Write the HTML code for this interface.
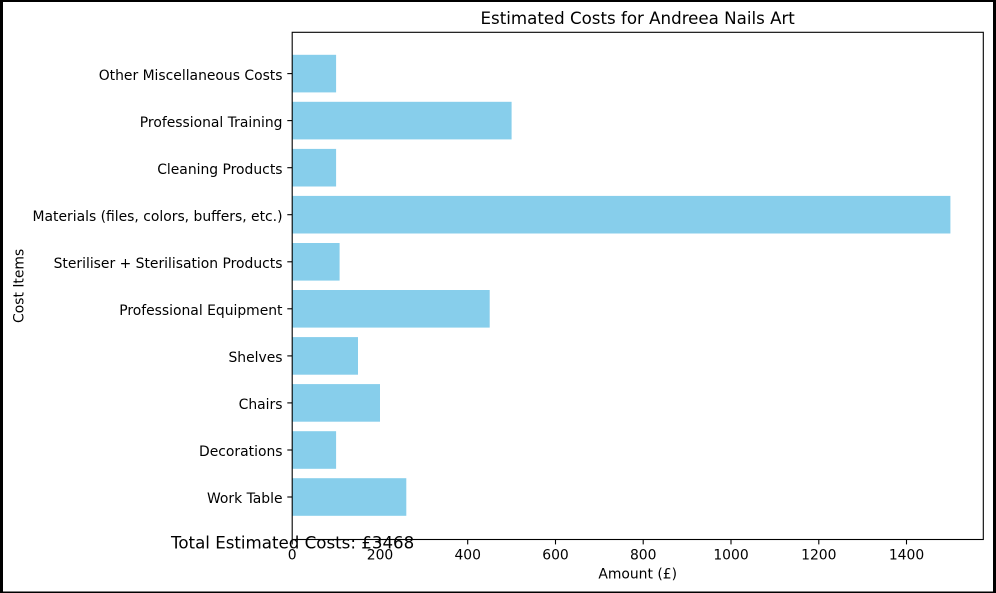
<!DOCTYPE html>
<html><head><meta charset="utf-8"><style>
html,body{margin:0;padding:0;background:#fff;}
svg{display:block;}
text{font-family:"DejaVu Sans","Liberation Sans",sans-serif;fill:#000;}
</style></head><body>
<svg width="996" height="593" viewBox="0 0 996 593" xmlns="http://www.w3.org/2000/svg">
<rect x="0" y="0" width="996" height="593" fill="#fff"/>
<!-- bars -->
<g fill="#87CEEB">
<rect x="292.2" y="478.2" width="114.1" height="37.6"/>
<rect x="292.2" y="431.2" width="43.9" height="37.6"/>
<rect x="292.2" y="384.1" width="87.8" height="37.6"/>
<rect x="292.2" y="337.1" width="65.8" height="37.6"/>
<rect x="292.2" y="290.0" width="197.5" height="37.6"/>
<rect x="292.2" y="243.0" width="47.4" height="37.6"/>
<rect x="292.2" y="195.9" width="658.2" height="37.6"/>
<rect x="292.2" y="148.9" width="43.9" height="37.6"/>
<rect x="292.2" y="101.8" width="219.4" height="37.6"/>
<rect x="292.2" y="54.8" width="43.9" height="37.6"/>
</g>
<!-- axes frame -->
<rect x="292.2" y="32.3" width="691.1" height="507.2" fill="none" stroke="#000" stroke-width="1.1"/>
<!-- x ticks -->
<g stroke="#000" stroke-width="1.1">
<line x1="292.2" y1="539.5" x2="292.2" y2="544.4"/>
<line x1="380.0" y1="539.5" x2="380.0" y2="544.4"/>
<line x1="467.7" y1="539.5" x2="467.7" y2="544.4"/>
<line x1="555.5" y1="539.5" x2="555.5" y2="544.4"/>
<line x1="643.2" y1="539.5" x2="643.2" y2="544.4"/>
<line x1="731.0" y1="539.5" x2="731.0" y2="544.4"/>
<line x1="818.8" y1="539.5" x2="818.8" y2="544.4"/>
<line x1="906.5" y1="539.5" x2="906.5" y2="544.4"/>
</g>
<g font-size="13.9" text-anchor="middle">
<text x="292.2" y="559.5">0</text>
<text x="380.0" y="559.5">200</text>
<text x="467.7" y="559.5">400</text>
<text x="555.5" y="559.5">600</text>
<text x="643.2" y="559.5">800</text>
<text x="731.0" y="559.5">1000</text>
<text x="818.8" y="559.5">1200</text>
<text x="906.5" y="559.5">1400</text>
</g>
<!-- y ticks -->
<g stroke="#000" stroke-width="1.1">
<line x1="287.3" y1="497.0" x2="292.2" y2="497.0"/>
<line x1="287.3" y1="450.0" x2="292.2" y2="450.0"/>
<line x1="287.3" y1="402.9" x2="292.2" y2="402.9"/>
<line x1="287.3" y1="355.9" x2="292.2" y2="355.9"/>
<line x1="287.3" y1="308.8" x2="292.2" y2="308.8"/>
<line x1="287.3" y1="261.8" x2="292.2" y2="261.8"/>
<line x1="287.3" y1="214.7" x2="292.2" y2="214.7"/>
<line x1="287.3" y1="167.7" x2="292.2" y2="167.7"/>
<line x1="287.3" y1="120.6" x2="292.2" y2="120.6"/>
<line x1="287.3" y1="73.6" x2="292.2" y2="73.6"/>
</g>
<g font-size="13.9" text-anchor="end">
<text x="282.5" y="503.2">Work Table</text>
<text x="282.5" y="456.2">Decorations</text>
<text x="282.5" y="409.1">Chairs</text>
<text x="282.5" y="362.1">Shelves</text>
<text x="282.5" y="315.0">Professional Equipment</text>
<text x="282.5" y="268.0">Steriliser + Sterilisation Products</text>
<text x="282.5" y="220.9">Materials (files, colors, buffers, etc.)</text>
<text x="282.5" y="173.9">Cleaning Products</text>
<text x="282.5" y="126.8">Professional Training</text>
<text x="282.5" y="79.8">Other Miscellaneous Costs</text>
</g>
<!-- labels -->
<text x="637.7" y="24" font-size="16.67" text-anchor="middle">Estimated Costs for Andreea Nails Art</text>
<text x="637.7" y="578.5" font-size="13.9" text-anchor="middle">Amount (£)</text>
<text transform="translate(23.5,285.9) rotate(-90)" font-size="13.9" text-anchor="middle">Cost Items</text>
<text x="171" y="548.5" font-size="16.67">Total Estimated Costs: £3468</text>
<!-- outer border -->
<g fill="#000">
<rect x="0" y="0" width="996" height="2"/>
<rect x="0" y="0" width="3" height="593"/>
<rect x="993" y="0" width="3" height="593"/>
<rect x="0" y="591.5" width="996" height="1.5"/>
</g>
</svg>
</body></html>
